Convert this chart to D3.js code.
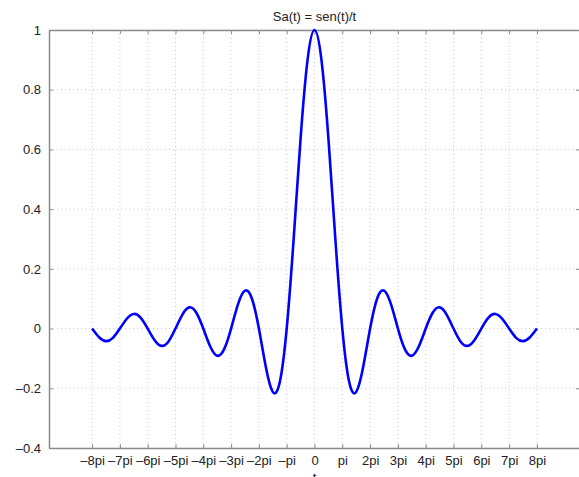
<!DOCTYPE html>
<html>
<head>
<meta charset="utf-8">
<script src="https://cdn.jsdelivr.net/npm/d3@7"></script>
<style>
  body { margin: 0; background: #fff; }
  text { font-family: "Liberation Sans", Arial, sans-serif; fill: #222; }
</style>
</head>
<body>
<svg id="chart" width="579" height="477"></svg>
<script>
// t in units of pi, sampled every quarter pi
var tPi = [-8, -7.75, -7.5, -7.25, -7, -6.75, -6.5, -6.25, -6, -5.75, -5.5, -5.25,
  -5, -4.75, -4.5, -4.25, -4, -3.75, -3.5, -3.25, -3, -2.75, -2.5, -2.25,
  -2, -1.75, -1.5, -1.25, -1, -0.75, -0.5, -0.25, 0, 0.25, 0.5, 0.75,
  1, 1.25, 1.5, 1.75, 2, 2.25, 2.5, 2.75, 3, 3.25, 3.5, 3.75,
  4, 4.25, 4.5, 4.75, 5, 5.25, 5.5, 5.75, 6, 6.25, 6.5, 6.75,
  7, 7.25, 7.5, 7.75, 8];
var sa = [0, -0.029, -0.042, -0.031, 0, 0.033, 0.049, 0.036, 0, -0.039, -0.058, -0.043,
  0, 0.047, 0.071, 0.053, 0, -0.060, -0.091, -0.069, 0, 0.082, 0.127, 0.100,
  0, -0.129, -0.212, -0.180, 0, 0.300, 0.637, 0.900, 1, 0.900, 0.637, 0.300,
  0, -0.180, -0.212, -0.129, 0, 0.100, 0.127, 0.082, 0, -0.069, -0.091, -0.060,
  0, 0.053, 0.071, 0.047, 0, -0.043, -0.058, -0.039, 0, 0.036, 0.049, 0.033,
  0, -0.031, -0.042, -0.029, 0];

var xTicks = [-8, -7, -6, -5, -4, -3, -2, -1, 0, 1, 2, 3, 4, 5, 6, 7, 8];
var xTickLabels = ["\u20138pi", "\u20137pi", "\u20136pi", "\u20135pi", "\u20134pi", "\u20133pi", "\u20132pi", "\u2013pi",
  "0", "pi", "2pi", "3pi", "4pi", "5pi", "6pi", "7pi", "8pi"];
var yTicks = [-0.4, -0.2, 0, 0.2, 0.4, 0.6, 0.8, 1];

var plotL = 49, plotR = 580, plotT = 30, plotB = 448;
var svg = d3.select("#chart");

var x = d3.scaleLinear().domain([-30, 30]).range([plotL, plotR]);
var y = d3.scaleLinear().domain([-0.4, 1]).range([plotB, plotT]);

var points = tPi.map(function(t, i) { return [t * Math.PI, sa[i]]; });
var xTickVals = xTicks.map(function(d) { return d * Math.PI; });

// grid
svg.append("g")
    .selectAll("line")
    .data(xTickVals)
    .join("line")
    .attr("x1", function(d) { return x(d); })
    .attr("x2", function(d) { return x(d); })
    .attr("y1", plotT)
    .attr("y2", plotB)
    .attr("stroke", "#cccccc")
    .attr("stroke-width", 1)
    .attr("stroke-dasharray", "1,3");
svg.append("g")
    .selectAll("line")
    .data(yTicks)
    .join("line")
    .attr("x1", plotL)
    .attr("x2", plotR)
    .attr("y1", function(d) { return y(d); })
    .attr("y2", function(d) { return y(d); })
    .attr("stroke", "#cccccc")
    .attr("stroke-width", 1)
    .attr("stroke-dasharray", "1,3");

// axes (inward ticks on all four sides)
var xFmt = function(d, i) { return xTickLabels[i]; };
var yFmt = function(d) { return d === 0 ? "0" : d3.format("~g")(d).replace("\u2212", "\u2013").replace("-", "\u2013"); };

var gx = svg.append("g")
    .attr("transform", "translate(0," + plotB + ")")
    .call(d3.axisBottom(x).tickValues(xTickVals)
      .tickFormat(xFmt).tickSizeInner(-4).tickSizeOuter(0).tickPadding(8));
var gxt = svg.append("g")
    .attr("transform", "translate(0," + plotT + ")")
    .call(d3.axisTop(x).tickValues(xTickVals)
      .tickFormat("").tickSizeInner(-4).tickSizeOuter(0));
var gy = svg.append("g")
    .attr("transform", "translate(" + plotL + ",0)")
    .call(d3.axisLeft(y).tickValues(yTicks).tickFormat(yFmt)
      .tickSizeInner(-4).tickSizeOuter(0).tickPadding(8));
var gyr = svg.append("g")
    .attr("transform", "translate(" + plotR + ",0)")
    .call(d3.axisRight(y).tickValues(yTicks).tickFormat("")
      .tickSizeInner(-4).tickSizeOuter(0));

[gx, gxt, gy, gyr].forEach(function(g) {
  g.select(".domain").attr("stroke", "#8a8a8a").attr("stroke-width", 1.5);
  g.selectAll(".tick line").attr("stroke", "#8a8a8a").attr("stroke-width", 1);
  g.selectAll(".tick text")
      .style("font-family", "'Liberation Sans', Arial, sans-serif")
      .style("font-size", "13px")
      .attr("fill", "#222");
});

// curve
var line = d3.line()
    .x(function(d) { return x(d[0]); })
    .y(function(d) { return y(d[1]); })
    .curve(d3.curveNatural);

svg.append("path")
    .datum(points)
    .attr("d", line)
    .attr("fill", "none")
    .attr("stroke", "#0000ff")
    .attr("stroke-width", 2.6);

// labels
svg.append("text")
    .attr("x", x(0))
    .attr("y", 21)
    .attr("text-anchor", "middle")
    .style("font-size", "13px")
    .text("Sa(t) = sen(t)/t");

svg.append("text")
    .attr("x", x(0))
    .attr("y", 482)
    .attr("text-anchor", "middle")
    .style("font-size", "13px")
    .text("t");
</script>
</body>
</html>
